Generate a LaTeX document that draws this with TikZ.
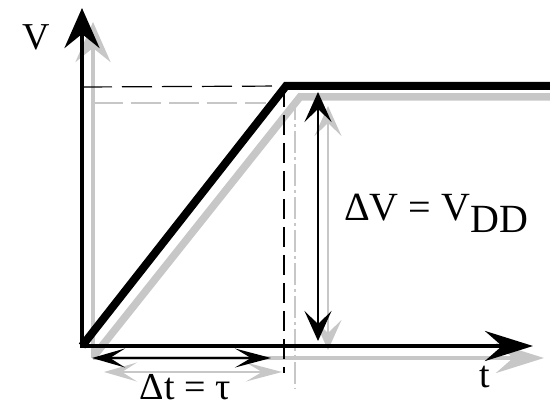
\documentclass[tikz,border=0pt]{standalone}
\usepackage{fontspec}
\setmainfont{Liberation Serif}
\usetikzlibrary{arrows.meta}
\begin{document}
\begin{tikzpicture}[x=1pt,y=-1pt,
  shade/.style={draw=black!22},
  axistip/.style={-{Stealth[length=40pt,width=35pt,inset=14pt]}},
  ttip/.style={-{Stealth[length=48pt,width=30pt,inset=17pt]}},
  dimv/.style={{Stealth[length=30pt,width=27pt,inset=13pt]}-{Stealth[length=30pt,width=27pt,inset=13pt]}},
  dimt/.style={{Stealth[length=33pt,width=19pt,inset=15pt]}-{Stealth[length=36pt,width=19pt,inset=16pt]}},
  lab/.style={font=\fontsize{38}{40}\selectfont, inner sep=0pt, anchor=base}]
\useasboundingbox (0,0) rectangle (550,409);
% ---- gray (shadow) drawing ----
\coordinate (gO) at (93,358);
\coordinate (gV) at (93,22);
\coordinate (gT) at (544,358);
\coordinate (gC) at (300,97);
\coordinate (gE) at (550,97);
\coordinate (gHa) at (93,103);
\coordinate (gHb) at (266,103);
\coordinate (gVa) at (295,98);
\coordinate (gVb) at (295,389);
\coordinate (gDVa) at (328,106);
\coordinate (gDVb) at (328,350);
\coordinate (gDTa) at (104,372);
\coordinate (gDTb) at (282,372);
\draw[shade, line width=1.1pt, dash pattern=on 30pt off 8pt] (gHa) -- (gHb);
\draw[shade, line width=1.1pt, dash pattern=on 22pt off 4pt on 3pt off 4pt] (gVa) -- (gVb);
\draw[shade, line width=4pt, axistip] (gO) -- (gV);
\draw[shade, line width=4.5pt, ttip] (gO) -- (gT);
\draw[shade, line width=7.5pt] (94,356) -- (gC) -- (gE);
\draw[shade, line width=1.6pt, dimv] (gDVa) -- (gDVb);
\draw[shade, line width=1.6pt, dimt] (gDTa) -- (gDTb);
% ---- black drawing ----
\coordinate (O) at (82,346);
\coordinate (Vt) at (82,8);
\coordinate (Tt) at (533,346);
\coordinate (C) at (286,86);
\coordinate (E) at (550,86);
\coordinate (Ha) at (82,87);
\coordinate (Vb) at (284,373);
\coordinate (Vc) at (284,87);
\coordinate (DVa) at (318,92);
\coordinate (DVb) at (318,341);
\coordinate (DTa) at (92,358);
\coordinate (DTb) at (271,358);
\draw[line width=1.2pt, dash pattern=on 30pt off 10pt] (Ha) -- (C);
\draw[line width=1.2pt, dash pattern=on 20pt off 8pt] (Vc) -- (Vb);
\draw[line width=4.5pt, axistip] (O) -- (Vt);
\draw[line width=4.5pt, ttip] (80,346) -- (Tt);
\draw[line width=8pt, line join=miter] (O) -- (C) -- (E);
\draw[line width=1.8pt, dimv] (DVa) -- (DVb);
\draw[line width=1.8pt, dimt] (DTa) -- (DTb);
% ---- labels ----
\node[lab] (lV) at (36,50) {V};
\node[lab] (lt) at (485,388) {t};
\node[lab, anchor=base west, font=\fontsize{40}{42}\selectfont] (ldV) at (344,221) {ΔV = V\raisebox{-12pt}{DD}};
\node[lab] (ldt) at (185,400) {Δt = τ};
\end{tikzpicture}
\end{document}
